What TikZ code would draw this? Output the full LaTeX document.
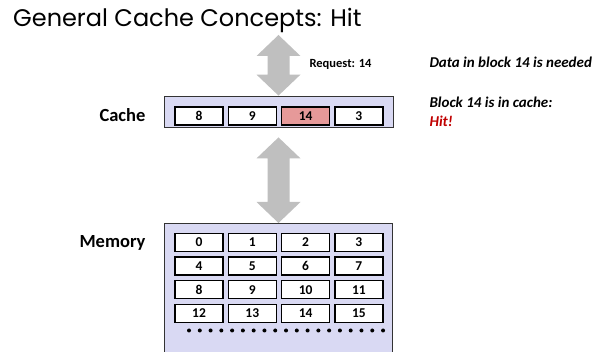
\documentclass[tikz,border=0pt]{standalone}
\usepackage{fontspec}
\setmainfont{Carlito}
\newfontfamily\titlefont{Poppins}
\usepackage{xcolor}
\usepackage{tikz}
\usetikzlibrary{positioning,calc}

\definecolor{boxfill}{RGB}{217,217,243}
\definecolor{hitfill}{RGB}{230,153,153}
\definecolor{arrowgray}{RGB}{191,191,191}
\definecolor{hitred}{RGB}{192,0,0}

\begin{document}
\begin{tikzpicture}[x=1pt, y=-1pt,
  every node/.style={font=\bfseries},
  block/.style={rectangle, draw, line width=1.2pt, fill=white, minimum width=48pt, minimum height=18pt, inner sep=0pt, font=\fontsize{13.5}{15}\bfseries},
  level/.style={rectangle, draw=black!80, line width=0.8pt, fill=boxfill, inner sep=0pt},
  lbl/.style={anchor=base east, font=\fontsize{18.5}{20}\bfseries},
  note/.style={anchor=base west, font=\fontsize{15}{17}\bfseries\itshape},
  bigarr/.style={fill=arrowgray},
]
\clip (0,0) rectangle (602,352);

\node[anchor=base west, inner sep=0pt, font=\titlefont\fontsize{24}{28}\selectfont] (title) at (13,27) {General Cache Concepts: Hit};

% cache level
\node[level, minimum width=229pt, minimum height=31pt] (cache) at (278.5,111.5) {};
\foreach \v/\f [count=\i from 0] in {8/white, 9/white, 14/hitfill, 3/white}
  \node[block, fill=\f] (c\i) at (199+53.3*\i,116) {\v};
\node[lbl] (cachelbl) at (149,122) {Cache};

% memory level
\node[level, minimum width=228pt, minimum height=140pt, anchor=north] (mem) at (278.5,223) {};
\foreach \r in {0,...,3}
  \foreach \c in {0,...,3} {
    \pgfmathtruncatemacro\n{4*\r+\c}
    \node[block] (m\n) at (199+53.3*\c,242.5+23.6*\r) {\n};
  }
\foreach \k in {0,...,18}
  \fill (189+10.78*\k,330.5) circle (2pt);
\node[lbl] (memlbl) at (149,248) {Memory};

% transfers
\coordinate (reqtip) at (278.5,35);
\coordinate (cachegap) at ($(cache.south)+(0,10)$);
\foreach \a/\b in {reqtip/cache.north, cachegap/mem.north}
  \fill[bigarr] (\a) -- ++(22,21) -- ++(-11,0) -- ($(\b)+(11,-21)$) -- ++(11,0)
    -- (\b) -- ++(-22,-21) -- ++(11,0) -- ($(\a)+(-11,21)$) -- ++(-11,0) -- cycle;

\node[anchor=base west, font=\fontsize{12.5}{14}\bfseries] (req) at (306,68) {Request: 14};

% notes
\node[note] (need) at (426,68) {Data in block 14 is needed};
\node[note] (incache) at (426,108) {Block 14 is in cache:};
\node[note, text=hitred] (hit) at (426,127) {Hit!};

\end{tikzpicture}
\end{document}
